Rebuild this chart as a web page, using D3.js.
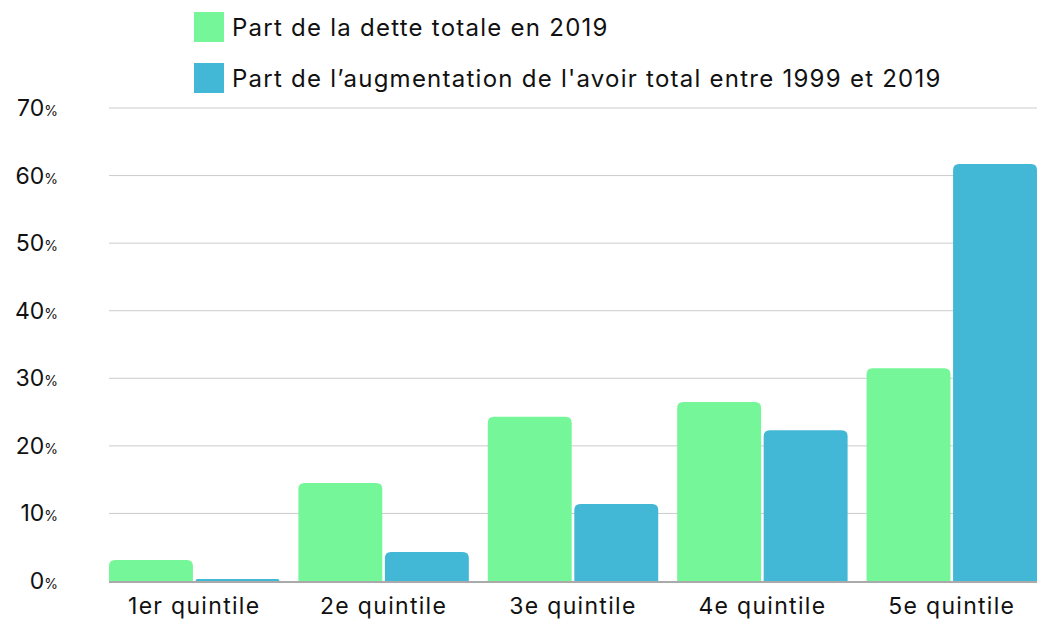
<!DOCTYPE html>
<html><head><meta charset="utf-8">
<script src="https://cdn.jsdelivr.net/npm/d3@7"></script>
<style>body{margin:0;background:#fff;}svg{display:block;font-family:Inter,"Noto Sans",sans-serif;}</style>
</head><body><svg id="c" width="1044" height="620"></svg>
<script>
const categories = ["1er quintile","2e quintile","3e quintile","4e quintile","5e quintile"];
const seriesNames = ["Part de la dette totale en 2019","Part de l\u2019augmentation de l'avoir total entre 1999 et 2019"];
const debtShare = [3.1, 14.5, 24.3, 26.5, 31.5];
const wealthGrowthShare = [0.3, 4.3, 11.4, 22.3, 61.7];
const yTicks = [0,10,20,30,40,50,60,70];
const colors = ["#75F799","#42B8D6"];

const svg = d3.select("#c");
const x0 = d3.scaleBand().domain(categories).range([109,1037]).paddingInner(0.1).paddingOuter(0);
const x1 = d3.scaleBand().domain([0,1]).range([0,x0.bandwidth()]).paddingInner(0.03);
const y = d3.scaleLinear().domain([0,70]).range([581,108]);

// grid
svg.append("g").selectAll("line").data(yTicks.filter(t=>t>0)).join("line")
 .attr("x1",109).attr("x2",1037).attr("y1",d=>y(d)).attr("y2",d=>y(d))
 .attr("stroke","#cccccc").attr("stroke-width",1);

// baseline
svg.append("line").attr("x1",109).attr("x2",1037).attr("y1",y(0)+1).attr("y2",y(0)+1)
 .attr("stroke","#aaaaaa").attr("stroke-width",2);

// y labels
const yl = svg.append("g").selectAll("text").data(yTicks).join("text")
 .attr("x",58).attr("y",d=>y(d)+8).attr("text-anchor","end").attr("fill","#111");
yl.append("tspan").attr("font-size",23).text(d=>d);
yl.append("tspan").attr("font-size",14).text("%");

function rtop(x,yTop,w,h,r){
  r=Math.min(r,h,w/2);
  return `M${x},${yTop+h}V${yTop+r}Q${x},${yTop} ${x+r},${yTop}H${x+w-r}Q${x+w},${yTop} ${x+w},${yTop+r}V${yTop+h}Z`;
}
const data = [debtShare, wealthGrowthShare];
categories.forEach((c,i)=>{
  data.forEach((s,j)=>{
    const xx = x0(c)+x1(j), w = x1.bandwidth(), yt = y(s[i]), h = y(0)-yt;
    svg.append("path").attr("d",rtop(xx,yt,w,h,6)).attr("fill",colors[j]);
  });
});

// x labels
svg.append("g").selectAll("text").data(categories).join("text")
 .attr("x",d=>x0(d)+x0.bandwidth()/2).attr("y",614).attr("text-anchor","middle")
 .attr("font-size",23).attr("letter-spacing",1.3).attr("fill","#111").text(d=>d);

// legend
const lg = svg.append("g").selectAll("g").data(seriesNames).join("g")
 .attr("transform",(d,i)=>`translate(194,${12+i*51})`);
lg.append("rect").attr("width",30).attr("height",30).attr("fill",(d,i)=>colors[i]);
lg.append("text").attr("x",38).attr("y",24).attr("font-size",24).attr("letter-spacing",1.25).attr("fill","#111").text(d=>d);
</script></body></html>
